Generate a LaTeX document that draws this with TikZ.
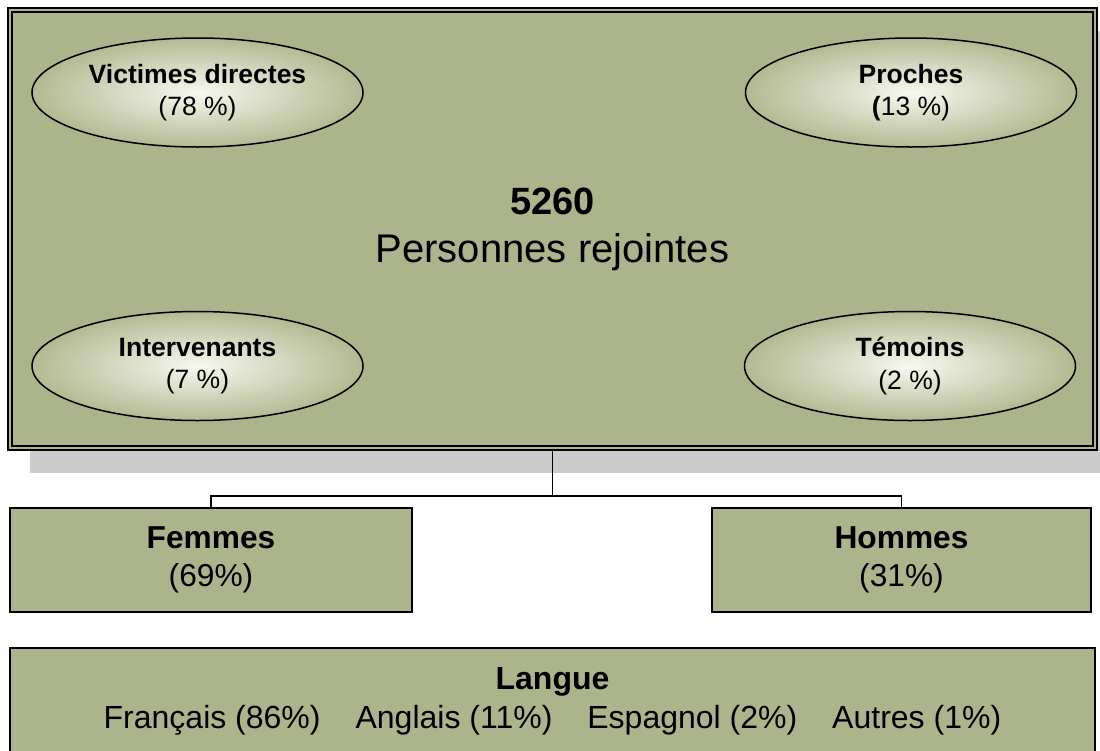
\documentclass[tikz,border=0pt]{standalone}
\usepackage{fontspec}
\setmainfont{Liberation Sans}
\usetikzlibrary{shapes.geometric}
\definecolor{olivebg}{RGB}{171,180,138}
\definecolor{ellout}{RGB}{178,186,146}
\definecolor{ellin}{RGB}{248,248,240}
\definecolor{shadowgrey}{RGB}{204,204,204}
\begin{document}
\begin{tikzpicture}[x=1pt,y=-1pt,
  boxstyle/.style={draw=black, line width=1.8pt, fill=olivebg, inner sep=0pt, align=center},
  ellstyle/.style={ellipse, draw=black, line width=1.5pt, inner color=ellin, outer color=ellout,
    minimum width=331pt, minimum height=109pt, inner sep=0pt, align=center,
    font=\fontsize{26.5}{32.5}\selectfont},
  conn/.style={draw=black, line width=1.8pt}]
\useasboundingbox (0,0) rectangle (1100,750);
\clip (0,0) rectangle (1100,750);
% shadow of the main box
\fill[shadowgrey] (30,31) rectangle (1119,473);
% main box
\node[boxstyle, line width=2pt, minimum width=1089pt, minimum height=442pt,
  font=\fontsize{40}{48}\selectfont] (main) at (552.5,229)
  {{\bfseries\fontsize{38}{48}\selectfont 5260}\\Personnes rejointes};
\draw[line width=1.5pt] ([shift={(5,5)}]main.north west) rectangle ([shift={(-5,-5)}]main.south east);
% ellipses
\node[ellstyle] (vict) at (197.5,92.5) {\textbf{Victimes directes}\\(78 \%)};
\node[ellstyle] (proch) at (911,92.5) {\textbf{Proches}\\\textbf{(}13 \%)};
\node[ellstyle] (interv) at (197.5,366) {\textbf{Intervenants}\\(7 \%)};
\node[ellstyle] (temoin) at (910,366) {\textbf{Témoins}\\(2 \%)};
% gender boxes
\node[boxstyle, minimum width=402pt, minimum height=104pt,
  font=\fontsize{31.7}{38.5}\selectfont] (femmes) at (211,560) {\textbf{Femmes}\\(69\%)};
\node[boxstyle, minimum width=379pt, minimum height=104pt,
  font=\fontsize{31.7}{38.5}\selectfont] (hommes) at (901.5,560) {\textbf{Hommes}\\(31\%)};
% connectors
\coordinate (junction) at (552.5,496);
\draw[conn] (main.south) -- (junction) -| (femmes.north);
\draw[conn] (junction) -| (hommes.north);
% language box
\node[boxstyle, minimum width=1085pt, minimum height=106pt,
  font=\fontsize{32}{39}\selectfont] (langue) at (552.5,701)
  {\textbf{Langue}\\Français (86\%)\hspace{35pt}Anglais (11\%)\hspace{35pt}Espagnol (2\%)\hspace{35pt}Autres (1\%)};
\end{tikzpicture}
\end{document}
